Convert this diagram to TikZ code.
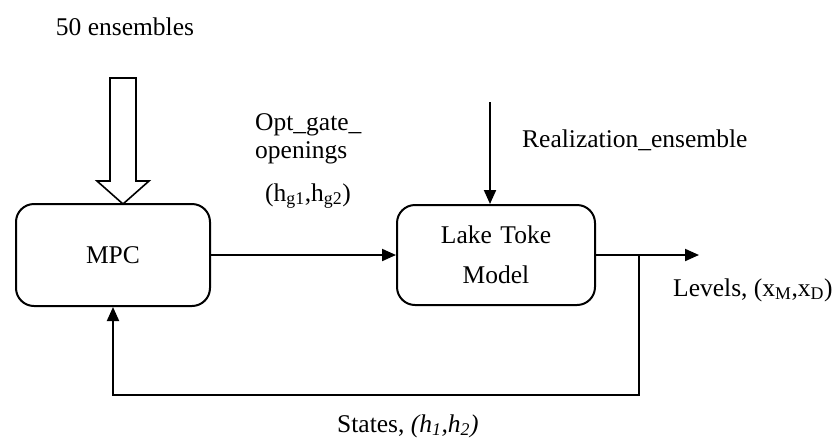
\documentclass[tikz,border=0pt]{standalone}
\usepackage{fontspec}
\setmainfont{Liberation Serif}
\usetikzlibrary{arrows.meta}
\begin{document}
\begin{tikzpicture}[x=1pt,y=-1pt,
  every node/.style={font=\fontsize{25.5}{30}\selectfont},
  block/.style={draw,line width=2pt,rounded corners=18pt,align=center},
  wire/.style={line width=2pt},
  flow/.style={wire,-{Triangle[length=14pt,width=12pt]}},
  lbl/.style={inner sep=0pt,align=left}]
\useasboundingbox (0,0) rectangle (832,440);

% blocks
\node[block,minimum width=194pt,minimum height=102pt] (mpc) at (113,255) {MPC};
\node[block,minimum width=198pt,minimum height=100pt,text width=190pt] (lake) at (496,255) {Lake Toke\\[10pt]Model};

% labels
\node[lbl] (ens) at (125,27) {50 ensembles};
\node[lbl,anchor=west] (opt1) at (255,125) {Opt\_gate\_};
\node[lbl,anchor=west] (opt2) at (255,153) {openings};
\node[lbl,anchor=west] (hg) at (265,196) {(h\textsubscript{g1},h\textsubscript{g2})};
\node[lbl,anchor=west] (real) at (522,140) {Realization\_ensemble};
\node[lbl,anchor=west] (lev) at (673,290) {Levels, (x\textsubscript{M},x\textsubscript{D})};
\node[lbl,anchor=west] (st) at (337,426) {States, \textit{(h\textsubscript{1},h\textsubscript{2})}};

% hollow input arrow into MPC
\coordinate (tip) at (123,204);
\draw[wire,line width=1.6pt,line join=miter] (tip) -- ++(26,-23) -- ++(-13,0) -- ++(0,-103)
  -- ++(-26,0) -- ++(0,103) -- ++(-13,0) -- cycle;

% control signal
\draw[flow] (mpc.east) -- (lake.west);

% realization input
\coordinate (rtop) at (490,102);
\draw[flow] (rtop) -- (rtop |- lake.north);

% output and feedback
\coordinate (out) at (699,255);
\coordinate (br) at (639,255);
\coordinate (fb) at (639,395);
\draw[flow] (lake.east) -- (out);
\draw[flow] (br) -- (fb) -- (fb -| mpc.south) -- (mpc.south);
\end{tikzpicture}
\end{document}
